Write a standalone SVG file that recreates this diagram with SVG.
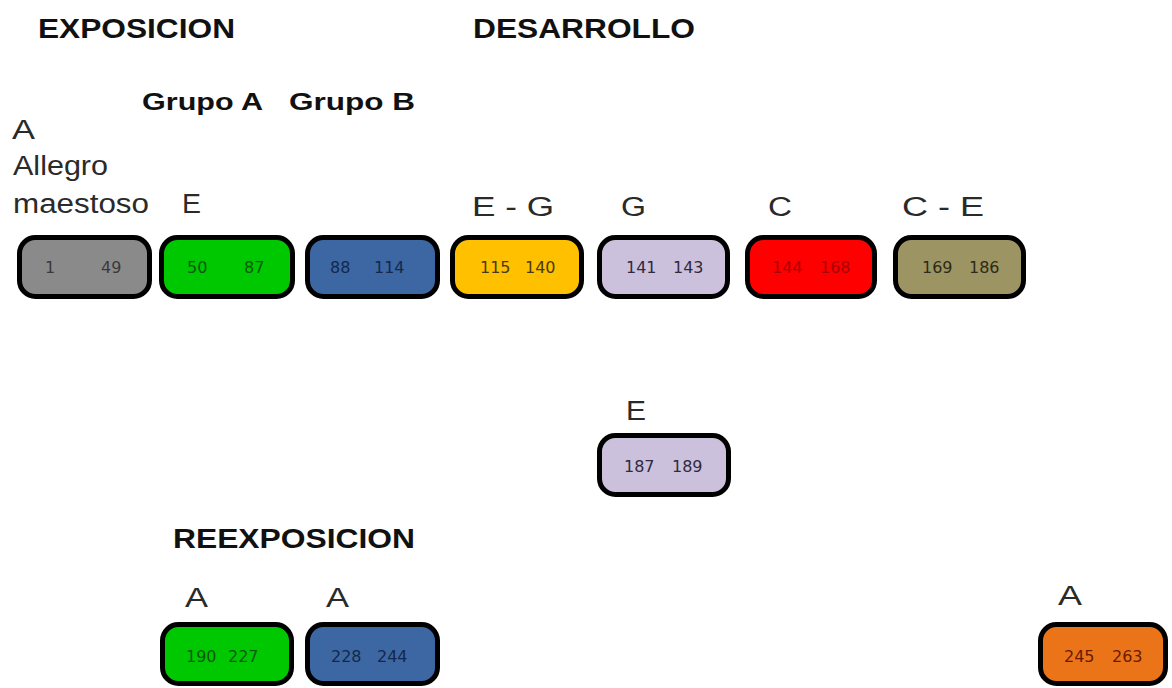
<svg xmlns="http://www.w3.org/2000/svg" width="1172" height="688" viewBox="0 0 1172 688">
  <style>
    .sec { font-family: "Liberation Sans", Arial, sans-serif; font-weight: bold; font-size: 27px; fill: #111; }
    .grp { font-family: "Liberation Sans", Arial, sans-serif; font-weight: bold; font-size: 24px; fill: #111; }
    .key { font-family: "Liberation Sans", Arial, sans-serif; font-size: 27px; fill: #2a2a2a; }
    .box { stroke: #000; stroke-width: 5; }
    .num { font-family: "DejaVu Sans", Verdana, sans-serif; font-size: 16px; }
  </style>
  <rect width="1172" height="688" fill="#ffffff"/>

  <!-- section headings -->
  <g id="headings">
    <text class="sec" x="38" y="38" textLength="197" lengthAdjust="spacingAndGlyphs">EXPOSICION</text>
    <text class="sec" x="473" y="38" textLength="222" lengthAdjust="spacingAndGlyphs">DESARROLLO</text>
    <text class="grp" x="142" y="110" textLength="121" lengthAdjust="spacingAndGlyphs">Grupo A</text>
    <text class="grp" x="289" y="110" textLength="126" lengthAdjust="spacingAndGlyphs">Grupo B</text>
    <text class="sec" x="173" y="548" textLength="242" lengthAdjust="spacingAndGlyphs">REEXPOSICION</text>
  </g>

  <!-- key / tempo labels -->
  <g id="keys">
    <text class="key" x="12" y="139" textLength="23" lengthAdjust="spacingAndGlyphs">A</text>
    <text class="key" x="13" y="175" textLength="95" lengthAdjust="spacingAndGlyphs">Allegro</text>
    <text class="key" x="13" y="213" textLength="136" lengthAdjust="spacingAndGlyphs">maestoso</text>
    <text class="key" x="182" y="213" textLength="19" lengthAdjust="spacingAndGlyphs">E</text>
    <text class="key" x="472" y="216" textLength="82" lengthAdjust="spacingAndGlyphs">E - G</text>
    <text class="key" x="621" y="216" textLength="25" lengthAdjust="spacingAndGlyphs">G</text>
    <text class="key" x="768" y="216" textLength="24" lengthAdjust="spacingAndGlyphs">C</text>
    <text class="key" x="902" y="216" textLength="82" lengthAdjust="spacingAndGlyphs">C - E</text>
    <text class="key" x="626" y="420" textLength="20" lengthAdjust="spacingAndGlyphs">E</text>
    <text class="key" x="185" y="607" textLength="23" lengthAdjust="spacingAndGlyphs">A</text>
    <text class="key" x="326" y="607" textLength="23" lengthAdjust="spacingAndGlyphs">A</text>
    <text class="key" x="1058" y="605" textLength="24" lengthAdjust="spacingAndGlyphs">A</text>
  </g>

  <!-- bar-range blocks -->
  <g id="b1-49">
    <rect class="box" x="19.5" y="237.5" width="130" height="59" rx="16" fill="#8a8a8a"/>
    <text class="num" y="273" fill="#3a3a3a"><tspan x="45">1</tspan><tspan x="101">49</tspan></text>
  </g>
  <g id="b50-87">
    <rect class="box" x="161.5" y="237.5" width="131" height="59" rx="16" fill="#00c800"/>
    <text class="num" y="273" fill="#0a5a0a"><tspan x="187">50</tspan><tspan x="244">87</tspan></text>
  </g>
  <g id="b88-114">
    <rect class="box" x="307.5" y="237.5" width="130" height="59" rx="16" fill="#3c67a3"/>
    <text class="num" y="273" fill="#14284a"><tspan x="330">88</tspan><tspan x="374">114</tspan></text>
  </g>
  <g id="b115-140">
    <rect class="box" x="452.5" y="237.5" width="129" height="59" rx="16" fill="#ffc000"/>
    <text class="num" y="273" fill="#4a3a10"><tspan x="480">115</tspan><tspan x="525">140</tspan></text>
  </g>
  <g id="b141-143">
    <rect class="box" x="599.5" y="237.5" width="128" height="59" rx="16" fill="#ccc1dc"/>
    <text class="num" y="273" fill="#2e2a40"><tspan x="626">141</tspan><tspan x="673">143</tspan></text>
  </g>
  <g id="b144-168">
    <rect class="box" x="747.5" y="237.5" width="127" height="59" rx="16" fill="#ff0000"/>
    <text class="num" y="273" fill="#a80000"><tspan x="772">144</tspan><tspan x="820">168</tspan></text>
  </g>
  <g id="b169-186">
    <rect class="box" x="895.5" y="237.5" width="128" height="59" rx="16" fill="#9c9462"/>
    <text class="num" y="273" fill="#2e2a18"><tspan x="922">169</tspan><tspan x="969">186</tspan></text>
  </g>
  <g id="b187-189">
    <rect class="box" x="599.5" y="435.5" width="129" height="59" rx="16" fill="#ccc1dc"/>
    <text class="num" y="472" fill="#2e2a40"><tspan x="624">187</tspan><tspan x="672">189</tspan></text>
  </g>
  <g id="b190-227">
    <rect class="box" x="162.5" y="624.5" width="129" height="59" rx="16" fill="#00c800"/>
    <text class="num" y="662" fill="#0a5a0a"><tspan x="186">190</tspan><tspan x="228">227</tspan></text>
  </g>
  <g id="b228-244">
    <rect class="box" x="307.5" y="624.5" width="130" height="59" rx="16" fill="#3c67a3"/>
    <text class="num" y="662" fill="#14284a"><tspan x="331">228</tspan><tspan x="377">244</tspan></text>
  </g>
  <g id="b245-263">
    <rect class="box" x="1040.5" y="624.5" width="125" height="59" rx="16" fill="#ec7418"/>
    <text class="num" y="662" fill="#6a1a00"><tspan x="1064">245</tspan><tspan x="1112">263</tspan></text>
  </g>

  <!-- no connectors are drawn between the blocks -->
  <g id="connectors"/>
</svg>
